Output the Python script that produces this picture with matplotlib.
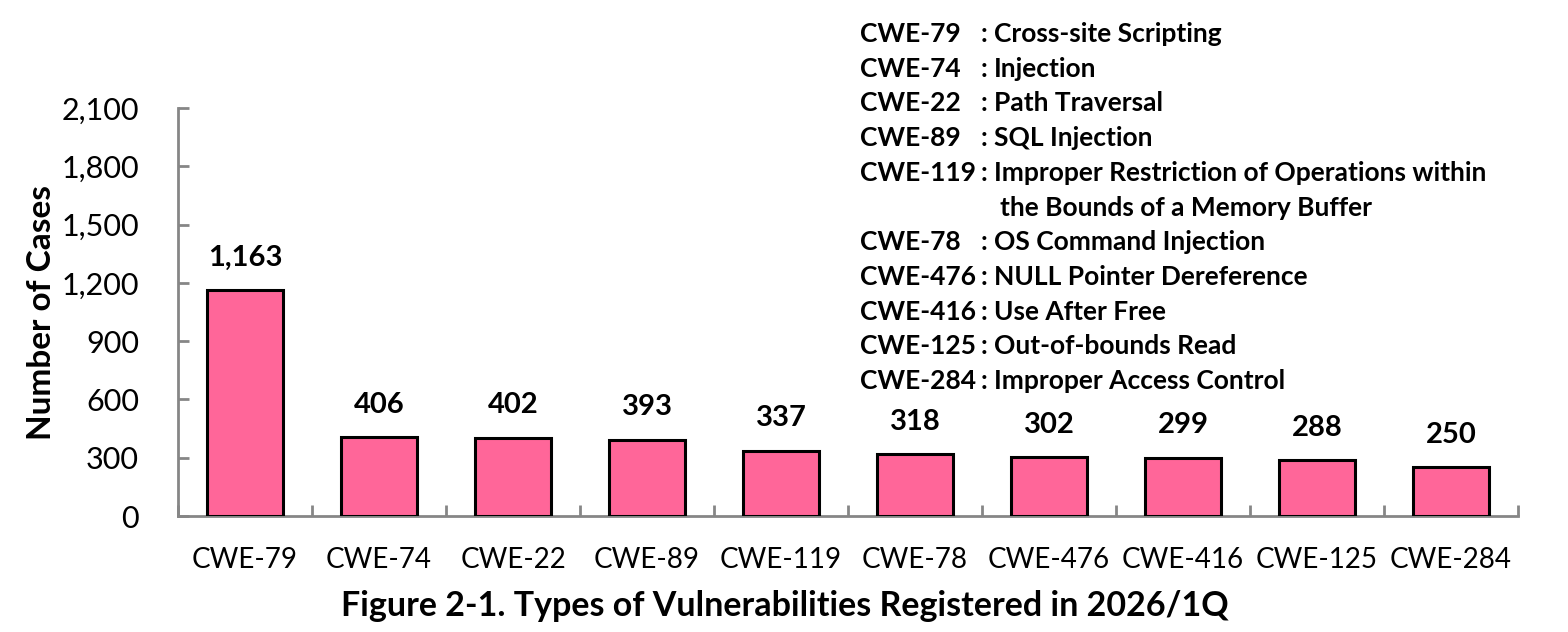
import matplotlib
matplotlib.use("Agg")
import matplotlib.pyplot as plt
import numpy as np

categories = ["CWE-79", "CWE-74", "CWE-22", "CWE-89", "CWE-119",
              "CWE-78", "CWE-476", "CWE-416", "CWE-125", "CWE-284"]
counts = [1163, 406, 402, 393, 337, 318, 302, 299, 288, 250]
descriptions = [
    "Cross-site Scripting",
    "Injection",
    "Path Traversal",
    "SQL Injection",
    "Improper Restriction of Operations within",
    "OS Command Injection",
    "NULL Pointer Dereference",
    "Use After Free",
    "Out-of-bounds Read",
    "Improper Access Control",
]
desc_continuation = {"CWE-119": "the Bounds of a Memory Buffer"}
y_ticks = [0, 300, 600, 900, 1200, 1500, 1800, 2100]

plt.rcParams["font.family"] = ["Lato", "DejaVu Sans"]

W, H = 1568, 632
fig = plt.figure(figsize=(W / 100, H / 100), dpi=100)
ax = fig.add_axes([178 / W, 1 - 516 / H, (1518 - 178) / W, (516 - 108) / H])

axis_grey = "#868686"
x = np.arange(len(categories))
ax.bar(x, counts, width=0.56, color="#FF6699", edgecolor="black", linewidth=2.2, zorder=3)

for xi, v in zip(x, counts):
    ax.annotate(f"{v:,}", (xi, v), xytext=(0, 14), textcoords="offset points",
                ha="center", va="bottom", fontsize=21, fontweight="bold")

ax.set_xlim(-0.5, len(categories) - 0.5)
ax.set_ylim(0, 2100)
ax.set_yticks(y_ticks)
ax.set_yticklabels([f"{t:,}" for t in y_ticks], fontsize=22)
ax.set_xticks(x)
ax.set_xticklabels(categories, fontsize=20)
ax.set_xticks(np.arange(len(categories) + 1) - 0.5, minor=True)

ax.tick_params(axis="y", direction="in", length=8, width=2, color=axis_grey, pad=28)
ax.tick_params(axis="x", which="major", length=0, pad=22)
ax.tick_params(axis="x", which="minor", direction="in", length=8, width=2, color=axis_grey)

for side in ["top", "right"]:
    ax.spines[side].set_visible(False)
for side in ["left", "bottom"]:
    ax.spines[side].set_color(axis_grey)
    ax.spines[side].set_linewidth(2)

ax.set_ylabel("Number of Cases", fontsize=24, fontweight="bold", labelpad=4)
fig.text(785 / W, 1 - 606 / H, "Figure 2-1. Types of Vulnerabilities Registered in 2026/1Q",
         ha="center", va="center", fontsize=24.5, fontweight="bold")

# code list in the upper right
line_y = 34
for code, desc in zip(categories, descriptions):
    yy = 1 - line_y / H
    fig.text(860 / W, yy, code, ha="left", va="center", fontsize=19, fontweight="bold")
    fig.text(984 / W, yy, ":", ha="center", va="center", fontsize=19, fontweight="bold")
    fig.text(994 / W, yy, desc, ha="left", va="center", fontsize=19, fontweight="bold")
    line_y += 34.7
    if code in desc_continuation:
        fig.text(1000 / W, 1 - line_y / H, desc_continuation[code], ha="left", va="center",
                 fontsize=19, fontweight="bold")
        line_y += 34.7

fig.savefig("out.png", dpi=100)
